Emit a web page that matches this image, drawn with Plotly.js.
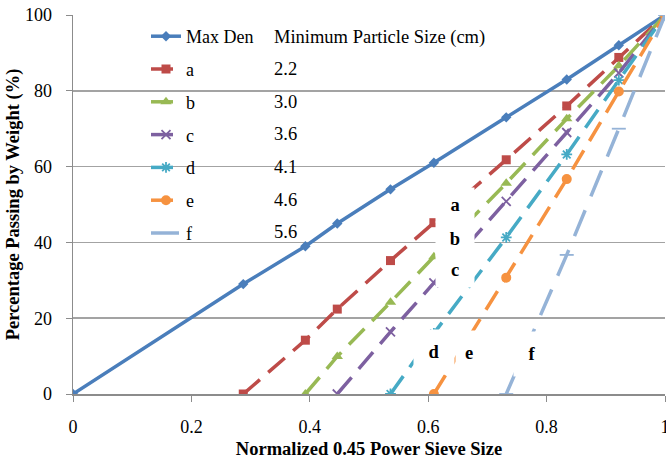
<!DOCTYPE html>
<html>
<head>
<meta charset="utf-8">
<script src="https://cdn.plot.ly/plotly-3.0.1.min.js"></script>
<style>html,body{margin:0;padding:0;background:#fff;}#chart{width:666px;height:461px;}</style>
</head>
<body>
<div id="chart"></div>
<script>
// Normalized 0.45 power sieve sizes
var sieveX = [0, 0.2876, 0.3925, 0.4464, 0.5363, 0.6096, 0.7318, 0.834, 0.922, 1];
var maxDen = [0, 29, 39, 45, 54, 61, 73, 83, 92, 100];
var seriesA = [0, 14.2, 22.4, 35.2, 45.2, 61.8, 76.0, 88.8, 100];
var seriesB = [0, 9.9, 24.2, 36.2, 55.6, 72.6, 86.6, 100];
var seriesC = [0, 16.4, 29.3, 50.8, 69.0, 84.7, 100];
var seriesD = [0, 16.0, 41.3, 63.2, 82.8, 100];
var seriesE = [0, 30.7, 56.7, 79.8, 100];
var seriesF = [0, 36.7, 70.0, 100];
var seriesNames = ['a', 'b', 'c', 'd', 'e', 'f'];
var minSizes = ['2.2', '3.0', '3.6', '4.1', '4.6', '5.6'];
var sizeHeader = 'Minimum Particle Size (cm)';
var yTickVals = [0, 20, 40, 60, 80, 100];
var xTickVals = [0, 0.2, 0.4, 0.6, 0.8, 1];
var xTickText = ['0', '0.2', '0.4', '0.6', '0.8', '1'];

var serif = 'Liberation Serif';
var allSeries = [seriesA, seriesB, seriesC, seriesD, seriesE, seriesF];
var colors = ['#BE4B48', '#98B954', '#7D60A0', '#46AAC5', '#F69240', '#95B3D7'];
var symbols = ['square', 'triangle-up', 'x-thin-open', 'asterisk-open', 'circle', 'line-ew-open'];
var msizes = [9, 10, 9, 9, 10, 10];
var dashes = ['22px,11px', '22px,11px', '22px,11px', '22px,11px', '22px,11px', '28px,15px'];

var traces = [{
  x: sieveX, y: maxDen, name: 'Max Den', mode: 'lines+markers', legendgroup: 'g0',
  line: {color: '#4A7EBB', width: 3.5},
  marker: {symbol: 'diamond', size: 8, color: '#4A7EBB'}
}];
allSeries.forEach(function (s, i) {
  var xs = sieveX.slice(sieveX.length - s.length);
  traces.push({
    x: xs, y: s, name: seriesNames[i], mode: 'lines+markers', legendgroup: 'g' + (i + 1),
    line: {color: colors[i], width: 3.5, dash: dashes[i]},
    marker: {symbol: symbols[i], size: msizes[i], color: colors[i],
             line: {color: colors[i], width: (symbols[i].indexOf('open') >= 0 ? 1.8 : 0)}}
  });
});

// pixel helpers for annotation placement in paper space
var plotTop = 15, plotBottom = 394, plotLeft = 73, plotRight = 665;
function py(p) { return (plotBottom - p) / (plotBottom - plotTop); }
function px(p) { return (p - plotLeft) / (plotRight - plotLeft); }

var annotations = [];
annotations.push({xref: 'paper', yref: 'paper', x: px(272), y: py(37), xanchor: 'left', yanchor: 'middle',
  text: sizeHeader, showarrow: false, font: {family: serif, size: 18.5, color: '#000', weight: 500}});
minSizes.forEach(function (v, i) {
  annotations.push({xref: 'paper', yref: 'paper', x: px(272), y: py(69 + 32.7 * i), xanchor: 'left', yanchor: 'middle',
    text: v, showarrow: false, font: {family: serif, size: 18.5, color: '#000', weight: 500}});
});
// curve labels with white boxes
var labelPos = [
  {t: 'a', x: 0.645, y: 50.0, w: 38, h: 34},
  {t: 'b', x: 0.645, y: 41.0, w: 38, h: 34},
  {t: 'c', x: 0.645, y: 32.6, w: 38, h: 34},
  {t: 'd', x: 0.610, y: 11.1, w: 40, h: 44},
  {t: 'e', x: 0.669, y: 10.9, w: 26, h: 44},
  {t: 'f', x: 0.775, y: 10.5, w: 36, h: 44}
];
labelPos.forEach(function (l) {
  annotations.push({xref: 'x', yref: 'y', x: l.x, y: l.y, text: '<b>' + l.t + '</b>', showarrow: false,
    font: {family: serif, size: 18.5, color: '#000'}, bgcolor: '#ffffff', width: l.w, height: l.h, borderpad: 0});
});

var layout = {
  width: 666, height: 461,
  margin: {l: 73, r: 1, t: 15, b: 67},
  paper_bgcolor: '#ffffff', plot_bgcolor: '#ffffff',
  font: {family: serif, size: 18, color: '#000'},
  showlegend: true,
  legend: {x: px(146), y: py(18), xanchor: 'left', yanchor: 'top', bgcolor: 'rgba(0,0,0,0)',
           font: {family: serif, size: 18, color: '#000', weight: 500}, traceorder: 'grouped', tracegroupgap: 6.4},
  xaxis: {range: [0, 1], tickvals: xTickVals, ticktext: xTickText, showgrid: false, zeroline: false,
          showline: true, linecolor: '#8c8c8c', linewidth: 1.5, ticks: 'outside', ticklen: 6, tickcolor: '#8c8c8c',
          tickfont: {family: serif, size: 18, color: '#000'}, ticklabelstandoff: 10, ticklabeloverflow: 'allow',
          title: {text: '<b>Normalized 0.45 Power Sieve Size</b>', font: {family: serif, size: 18.5, color: '#000'}, standoff: 6}},
  yaxis: {range: [0, 100], tickvals: yTickVals, showgrid: true, gridcolor: '#a3a3a3', gridwidth: 1.5, zeroline: false,
          showline: true, linecolor: '#8c8c8c', linewidth: 1.5, ticks: 'outside', ticklen: 6, tickcolor: '#8c8c8c',
          tickfont: {family: serif, size: 18, color: '#000'}, ticklabelstandoff: 10, ticklabeloverflow: 'allow',
          title: {text: '<b>Percentage Passing by Weight (%)</b>', font: {family: serif, size: 18.5, color: '#000'}, standoff: 0}},
  annotations: annotations
};

Plotly.newPlot('chart', traces, layout, {staticPlot: true, displayModeBar: false});
</script>
</body>
</html>
